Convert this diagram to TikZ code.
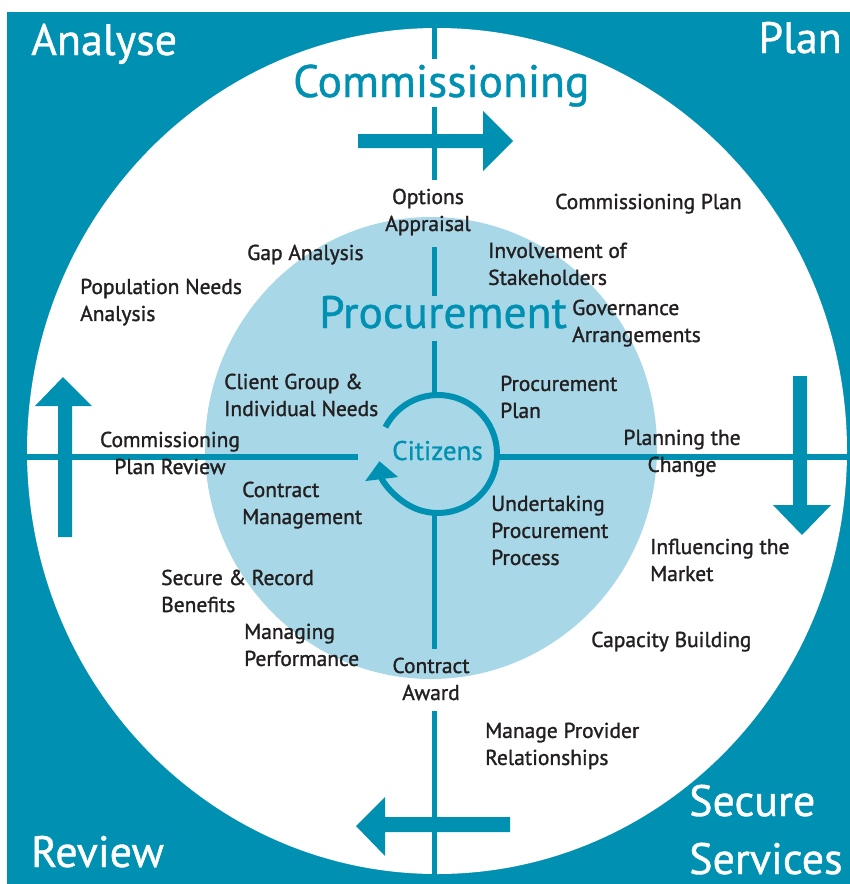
\documentclass[tikz,border=0pt]{standalone}
\usepackage{fontspec}
\setmainfont{PT Sans}
\newfontfamily\labfont[FakeBold=1.3]{PT Sans}
\newfontfamily\headfont[FakeBold=0.9]{PT Sans}
\usetikzlibrary{arrows.meta}
\definecolor{tealc}{RGB}{0,145,178}
\definecolor{lightb}{RGB}{168,216,232}
\definecolor{ink}{RGB}{35,31,32}
\begin{document}
\begin{tikzpicture}[x=1pt,y=1pt,
  lbl/.style={font=\labfont\fontsize{21.5}{27}\selectfont, text=ink, inner sep=0pt, align=left, anchor=north west},
  clbl/.style={font=\labfont\fontsize{21.5}{27}\selectfont, text=ink, inner sep=0pt, align=center, anchor=north},
  corner/.style={font=\headfont\fontsize{44}{60}\selectfont, text=white, inner sep=0pt},
  big/.style={font=\headfont\fontsize{45.5}{50}\selectfont, text=tealc, inner sep=0pt, anchor=base west},
  axis/.style={draw=tealc, line width=5.5pt},
  bigarrow/.style={fill=tealc}]
\useasboundingbox (0,0) rectangle (850,-884);
\fill[white] (0,0) rectangle (850,-884);
\fill[tealc] (7,-12) rectangle (850,-884);
\fill[white] (437,-451) ellipse [x radius=410, y radius=423];
\fill[lightb] (431,-448) ellipse [x radius=226, y radius=231];
% cross lines
\path[axis] (434.5,-20) -- (434.5,-59);
\path[axis] (434.5,-107) -- (434.5,-180);
\path[axis] (434.5,-247) -- (434.5,-296);
\path[axis] (434.5,-341) -- (434.5,-395);
\path[axis] (434.5,-514) -- (434.5,-649);
\path[axis] (434.5,-711) -- (434.5,-880);
\path[axis] (20,-457) -- (358,-457);
\path[axis] (497,-457) -- (848,-457);
% citizens cycle
\draw[tealc, line width=6pt, -{Triangle[length=18pt,width=32pt]}] (438,-454) ++(153:59) arc[start angle=153, end angle=-173, radius=59];
% big arrows
\fill[bigarrow] (358,-134) -- (483,-134) -- (483,-111) -- (513,-141) -- (483,-171) -- (483,-148) -- (358,-148) -- cycle;
\fill[bigarrow] (793,-376) -- (807,-376) -- (807,-505) -- (831,-505) -- (802,-535) -- (773,-505) -- (793,-505) -- cycle;
\fill[bigarrow] (510,-817) -- (385,-817) -- (385,-797) -- (356,-826) -- (385,-856) -- (385,-832) -- (510,-832) -- cycle;
\fill[bigarrow] (58,-537) -- (58,-406) -- (35,-406) -- (63,-377) -- (92,-406) -- (72,-406) -- (72,-537) -- cycle;
% corner labels
\node[corner, anchor=base west] (analyse) at (31,-55) {Analyse};
\node[corner, anchor=base east] (plan) at (842,-53) {Plan};
\node[corner, anchor=base west] (review) at (31,-867) {Review};
\node[corner, anchor=base west] (secure) at (689,-816) {Secure};
\node[corner, anchor=base west] (services) at (689,-874) {Services};
% titles
\node[big] (comm) at (293,-97) {Commissioning};
\node[big] (proc) at (319,-328) {Procurement};
\node[font=\headfont\fontsize{27}{30}\selectfont, text=tealc, inner sep=0pt, anchor=base west] (cit) at (392,-460) {Citizens};
% labels
\node[clbl] (opts) at (428,-188.5) {Options\\Appraisal};
\node[lbl] (cplan) at (555,-193.5) {Commissioning Plan};
\node[lbl] (gap) at (247,-244.5) {Gap Analysis};
\node[lbl] (invol) at (488,-242.5) {Involvement of\\Stakeholders};
\node[lbl] (popn) at (80,-278.5) {Population Needs\\Analysis};
\node[lbl] (gov) at (572,-299.5) {Governance\\Arrangements};
\node[lbl] (client) at (224,-373.5) {Client Group \&\\Individual Needs};
\node[lbl] (pplan) at (500,-375.5) {Procurement\\Plan};
\node[clbl] (cpr) at (170,-431.5) {Commissioning\\Plan Review};
\node[clbl] (ptc) at (682,-429.5) {Planning the\\Change};
\node[lbl] (cmgmt) at (242,-481.5) {Contract\\Management};
\node[lbl] (under) at (491,-495.5) {Undertaking\\Procurement\\Process};
\node[lbl] (infl) at (650,-538.5) {Influencing the\\Market};
\node[lbl] (secrec) at (161,-569.5) {Secure \& Record\\Benefits};
\node[lbl] (manperf) at (244,-623.5) {Managing\\Performance};
\node[lbl] (capb) at (591,-631.5) {Capacity Building};
\node[clbl] (caward) at (431,-657.5) {Contract\\Award};
\node[lbl] (mprov) at (485,-722.5) {Manage Provider\\Relationships};
\end{tikzpicture}
\end{document}
